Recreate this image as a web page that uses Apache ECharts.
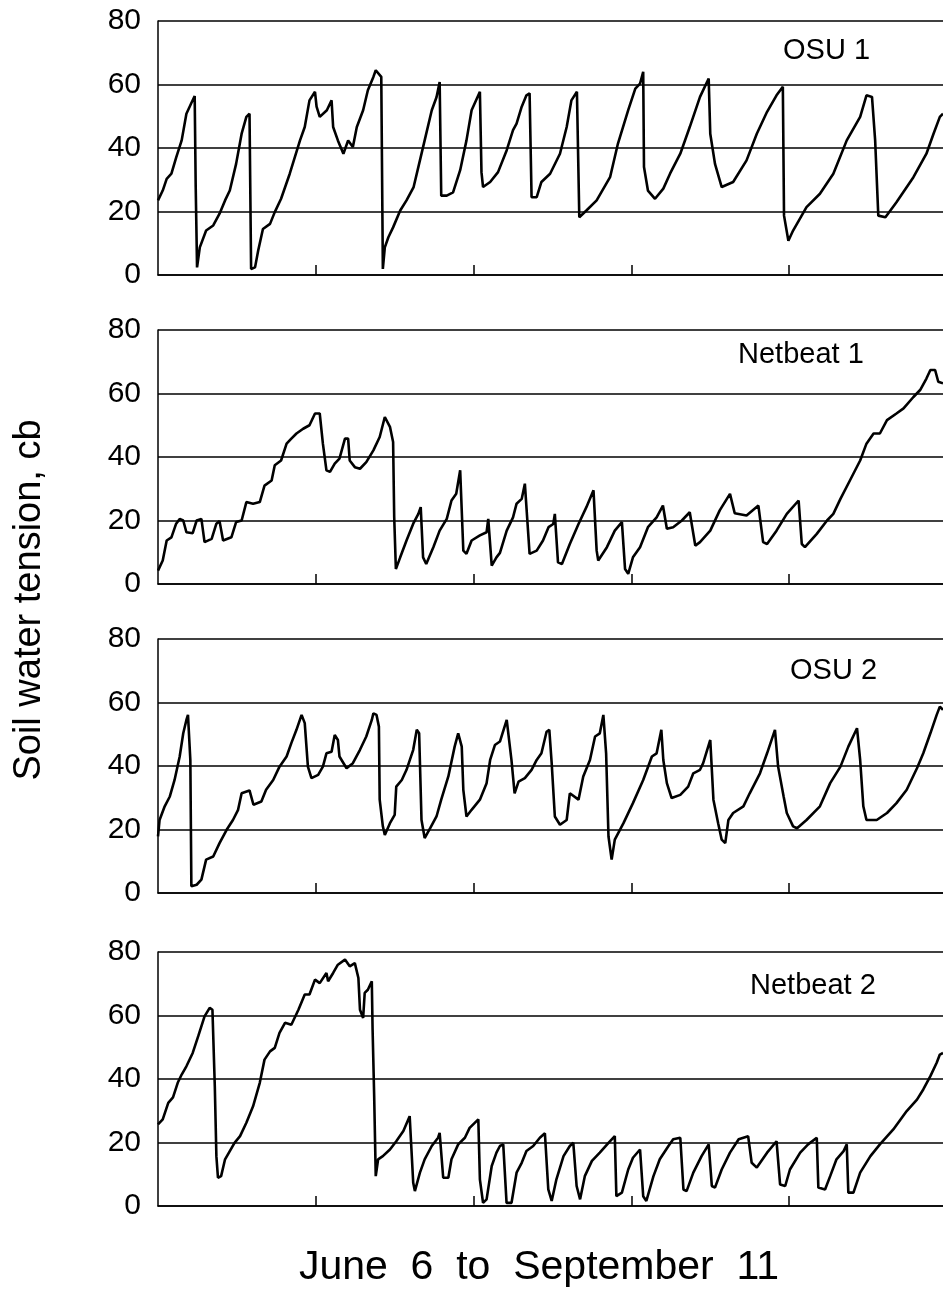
<!DOCTYPE html>
<html>
<head>
<meta charset="utf-8">
<script src="https://cdn.jsdelivr.net/npm/echarts@6/dist/echarts.min.js"></script>
<style>
  html, body { margin: 0; padding: 0; background: #fff; }
  #chart { width: 943px; height: 1292px; }
</style>
</head>
<body>
<div id="chart"></div>
<script>
// x is a time index along the season (tick every 20 units), y is soil water tension (cb)
var osu1Day = [0, 0.6, 1.1, 1.7, 2.3, 3.0, 3.6, 4.2, 4.65, 4.78, 4.95, 5.3, 6.1, 7.0, 7.8, 8.5, 9.1, 9.9, 10.6, 11.2, 11.6, 11.8, 12.3, 12.7, 13.3, 14.2, 14.8, 15.6, 16.7, 18.0, 18.6, 19.2, 19.9, 20.1, 20.5, 21.4, 22.0, 22.2, 22.8, 23.5, 24.1, 24.7, 25.2, 26.0, 26.6, 27.3, 27.6, 28.3, 28.5, 28.75, 29.2, 29.8, 30.7, 31.5, 32.4, 33.2, 33.8, 34.7, 35.3, 35.7, 35.9, 36.6, 37.4, 38.3, 39.1, 39.75, 40.8, 40.9, 41.0, 41.2, 42.1, 43.1, 44.2, 45.0, 45.45, 46.1, 46.7, 47.1, 47.35, 48.0, 48.6, 49.7, 50.95, 51.8, 52.4, 53.1, 53.4, 54.3, 55.6, 57.3, 58.3, 59.6, 60.5, 61.1, 61.5, 61.6, 62.1, 63.0, 64.05, 64.9, 66.2, 67.4, 68.7, 69.8, 70.0, 70.6, 71.45, 72.9, 74.6, 75.9, 77.2, 78.4, 79.2, 79.35, 79.9, 80.5, 82.2, 83.9, 85.6, 87.3, 89.0, 89.8, 90.5, 90.9, 91.3, 92.2, 93.6, 95.75, 97.4, 98.3, 99.1, 99.5];
var osu1Val = [23.5, 26.6, 30.3, 31.9, 37, 42.4, 50.8, 54, 56.4, 27.7, 2.4, 8.7, 14, 15.6, 19.3, 23.5, 26.6, 35, 44.5, 49.8, 50.8, 1.9, 2.4, 7.7, 14.5, 16.1, 19.8, 24, 31.9, 42.4, 46.6, 55, 57.7, 53, 49.8, 51.9, 55, 46.6, 42.4, 38.2, 42.4, 40.3, 46.6, 51.9, 58.2, 62.4, 64.5, 62.4, 1.9, 8.7, 11.9, 15, 20.3, 23.5, 27.7, 36.1, 42.4, 51.9, 56, 60.8, 25, 25, 26, 33, 42.4, 51.9, 57.7, 57.7, 32.4, 27.7, 29.3, 32.4, 39.3, 45.6, 47.7, 53, 56.6, 57.2, 24.5, 24.5, 29.3, 31.9, 38.2, 46.6, 55, 57.7, 18.2, 20.3, 23.5, 30.8, 41.4, 51.9, 58.7, 60.3, 64, 34, 26.6, 24, 27.2, 31.9, 38.2, 46.6, 56.1, 61.9, 44.5, 35, 27.7, 29.3, 36.1, 44.5, 51.4, 56.6, 59.3, 18.7, 10.8, 14, 21.4, 25.6, 31.9, 42.4, 49.8, 56.6, 56.1, 42.4, 18.7, 18.2, 22.9, 30.8, 38.2, 44.5, 49.8, 50.8];

var net1Day = [0, 0.6, 1.1, 1.7, 2.3, 2.75, 3.2, 3.6, 4.4, 4.9, 5.5, 5.9, 6.8, 7.4, 7.8, 8.25, 9.3, 9.9, 10.6, 11.2, 12.05, 12.9, 13.5, 14.4, 14.8, 15.6, 16.3, 16.9, 17.55, 18.4, 19.2, 19.9, 20.5, 20.9, 21.35, 21.8, 22.4, 23.0, 23.7, 24.1, 24.3, 24.95, 25.6, 26.4, 27.3, 28.1, 28.75, 29.4, 29.8, 29.94, 30.15, 30.7, 31.5, 32.35, 33.0, 33.3, 33.6, 34.0, 34.9, 35.7, 36.6, 37.2, 37.8, 38.3, 38.7, 39.1, 39.75, 40.8, 41.65, 41.86, 42.3, 42.9, 43.34, 44.2, 45.0, 45.45, 46.1, 46.5, 46.7, 47.1, 48.0, 48.8, 49.5, 50.1, 50.3, 50.7, 51.2, 52.2, 53.3, 54.3, 55.2, 55.6, 55.8, 56.9, 57.9, 58.8, 59.2, 59.6, 60.2, 61.1, 62.1, 63.2, 64.0, 64.5, 65.3, 66.4, 67.4, 68.1, 68.7, 70.0, 71.2, 72.5, 73.1, 74.6, 76.1, 76.7, 77.2, 78.4, 79.7, 81.2, 81.6, 82.0, 83.5, 84.8, 85.6, 86.5, 87.7, 89.0, 89.8, 90.7, 91.5, 92.4, 93.6, 94.5, 95.75, 96.6, 97.4, 97.9, 98.5, 98.9, 99.5];
var net1Val = [4.2, 7.4, 13.7, 14.7, 19, 20.5, 20, 16.3, 16, 20, 20.5, 13.2, 14.2, 19, 19.8, 13.7, 14.7, 19.5, 20, 25.8, 25.3, 25.8, 31, 32.6, 37.4, 38.9, 44.2, 45.8, 47.4, 48.9, 50, 53.7, 53.7, 44.2, 35.8, 35.3, 37.9, 39.5, 45.8, 45.8, 38.9, 36.8, 36.3, 38.4, 42.1, 46.3, 52.6, 49.5, 44.7, 21, 4.7, 8.4, 13.7, 19, 22.1, 24.2, 8.4, 6.3, 11.6, 16.8, 20.5, 26.3, 28.4, 35.8, 10.5, 9.5, 13.7, 15.3, 16.3, 20.5, 5.8, 8.4, 9.8, 16.8, 21, 25.3, 26.8, 31.6, 32.1, 9.5, 10.5, 13.7, 17.9, 18.9, 22.1, 6.8, 6.3, 12.6, 18.9, 24.2, 29.5, 10.5, 7.4, 11.6, 16.8, 19.5, 4.7, 3.2, 8.4, 11.6, 17.9, 21, 24.7, 17.4, 17.9, 20, 22.6, 12.1, 13.2, 16.8, 23.2, 28.4, 22.3, 21.6, 24.7, 13.2, 12.6, 16.8, 22.1, 26.3, 12.6, 11.6, 15.8, 20, 22.1, 26.8, 32.6, 38.9, 44.2, 47.4, 47.4, 51.6, 53.7, 55.3, 58.9, 61.1, 64.7, 67.4, 67.4, 63.7, 63.2];

var osu2Day = [0, 0.2, 0.85, 1.5, 2.1, 2.75, 3.2, 3.6, 3.8, 4.1, 4.23, 4.9, 5.5, 6.1, 7.0, 7.8, 8.7, 9.5, 10.15, 10.6, 11.6, 12.1, 13.1, 13.7, 14.6, 15.4, 16.3, 16.9, 17.55, 18.2, 18.6, 19.0, 19.45, 20.3, 20.9, 21.35, 22.0, 22.4, 22.8, 23.0, 23.9, 24.7, 25.6, 26.4, 27.1, 27.3, 27.7, 28.0, 28.1, 28.5, 28.75, 29.4, 30.0, 30.2, 30.9, 31.5, 32.35, 32.8, 33.1, 33.4, 33.8, 34.5, 35.3, 35.9, 36.8, 37.6, 38.05, 38.5, 38.7, 39.1, 39.75, 40.8, 41.65, 42.1, 42.7, 43.34, 44.2, 44.4, 44.8, 45.2, 45.7, 46.5, 47.35, 48.0, 48.6, 49.25, 49.6, 49.9, 50.3, 50.95, 51.8, 52.2, 53.3, 53.9, 54.75, 55.4, 56.0, 56.45, 56.8, 57.1, 57.5, 57.9, 59.0, 60.2, 61.5, 62.6, 63.2, 63.8, 64.05, 64.5, 65.1, 66.2, 67.2, 67.85, 68.7, 69.1, 70.0, 70.4, 71.0, 71.45, 71.9, 72.3, 72.9, 74.2, 75.0, 76.3, 77.2, 78.2, 78.6, 79.3, 79.7, 80.5, 81.0, 82.2, 83.9, 85.2, 86.5, 87.5, 88.6, 89.0, 89.4, 89.8, 91.1, 92.4, 93.6, 94.9, 96.2, 97.0, 97.9, 98.7, 99.1, 99.5];
var osu2Val = [17.8, 23, 27.3, 30.4, 35.6, 43, 50.3, 54.5, 56.1, 41.9, 2.1, 2.6, 4.2, 10.5, 11.5, 15.7, 19.9, 23, 26.2, 31.4, 32.3, 27.8, 28.8, 32.5, 35.6, 39.8, 43, 47.2, 51.4, 56.1, 53.5, 39.8, 36.2, 37.2, 39.8, 44, 44.5, 49.8, 48.2, 43, 39.3, 40.9, 45.1, 49.3, 54.5, 56.6, 56.1, 52.4, 29.4, 21, 18.3, 22, 24.6, 33.5, 35.6, 38.8, 45.1, 51.4, 50.3, 23, 17.3, 20.4, 24.1, 29.4, 36.7, 46.1, 50.3, 46.1, 32.5, 24.1, 26.2, 29.4, 34.6, 41.9, 46.6, 47.7, 54.5, 54.5, 41.9, 31.4, 35.1, 36.2, 38.8, 41.9, 44, 50.8, 51.4, 40.9, 24.1, 21.5, 23, 31.4, 29.4, 36.7, 41.9, 49.3, 50.3, 56.1, 44, 17.8, 10.5, 16.8, 22, 28.3, 35.6, 43, 44, 51.4, 41.9, 34.6, 29.9, 30.9, 33.5, 37.7, 38.8, 40.9, 48.2, 29.4, 22, 16.8, 15.7, 23, 25.2, 27.3, 31.4, 37.7, 44, 51.4, 39.8, 30.4, 25.2, 21, 20.4, 23, 27.3, 34.6, 39.8, 46.1, 51.9, 41.9, 27.3, 23, 23, 25.2, 28.3, 32.5, 39.3, 44, 50.3, 56.1, 58.7, 57.7];

var net2Day = [0, 0.6, 1.3, 1.9, 2.5, 3.0, 3.6, 4.4, 5.1, 5.9, 6.55, 6.9, 7.2, 7.4, 7.6, 8.0, 8.5, 9.1, 9.7, 10.4, 11.2, 12.05, 12.9, 13.5, 14.2, 14.8, 15.4, 16.1, 16.9, 17.8, 18.6, 19.2, 19.9, 20.5, 21.35, 21.56, 22.2, 22.8, 23.7, 24.3, 24.95, 25.4, 25.6, 26.0, 26.2, 26.6, 27.1, 27.2, 27.4, 27.6, 27.9, 28.5, 29.4, 30.2, 31.1, 31.9, 32.35, 32.56, 33.2, 33.8, 34.7, 35.5, 35.7, 36.15, 36.8, 37.2, 38.05, 38.9, 39.5, 40.6, 40.8, 41.2, 41.65, 42.3, 42.9, 43.34, 43.76, 44.18, 44.81, 45.45, 46.1, 46.7, 47.56, 48.4, 49.04, 49.47, 49.9, 50.5, 51.4, 52.2, 52.64, 53.06, 53.5, 54.1, 55.0, 56.0, 57.1, 57.9, 58.1, 58.8, 59.6, 60.2, 61.1, 61.5, 61.9, 62.8, 63.6, 64.7, 65.3, 66.2, 66.6, 67.0, 67.85, 68.9, 69.8, 70.2, 70.6, 71.45, 72.5, 73.6, 74.8, 75.25, 75.9, 77.2, 78.4, 78.85, 79.5, 80.1, 81.4, 82.4, 83.5, 83.7, 84.55, 85.2, 86.0, 86.9, 87.3, 87.5, 88.15, 89.0, 90.3, 91.5, 93.2, 94.9, 96.2, 97.0, 97.9, 98.7, 99.1, 99.5];
var net2Val = [25.7, 27.3, 32.5, 34.2, 38.8, 41.4, 44, 48.2, 53.5, 59.7, 62.4, 61.8, 37.7, 15.7, 8.9, 9.4, 14.7, 17.3, 19.9, 22, 26.2, 31.4, 38.8, 46.1, 48.7, 49.8, 54.5, 57.7, 57.1, 61.8, 66.6, 66.6, 71.3, 70.2, 73.4, 70.8, 73.4, 76, 77.6, 75.5, 76.5, 71.8, 61.8, 59.2, 67.1, 68.1, 70.8, 55.6, 34.6, 9.4, 14.7, 15.7, 17.8, 20.4, 23.6, 28.3, 7.3, 4.7, 10.5, 14.7, 18.9, 21.5, 23, 8.9, 8.9, 14.7, 19.4, 21.5, 24.6, 27.3, 8.4, 1, 2.1, 12.6, 16.8, 18.9, 19.4, 1, 1, 10.5, 13.6, 17.3, 18.9, 21.5, 22.9, 5.2, 1.6, 8.4, 15.7, 18.9, 19.9, 6.3, 2.1, 9.4, 14.2, 16.8, 19.9, 22, 3.1, 4.2, 11.5, 15.2, 17.8, 3.1, 1.6, 9.4, 14.7, 18.9, 21, 21.5, 5.2, 4.7, 10.5, 15.7, 19.4, 6.3, 5.8, 11.5, 16.8, 21, 22, 13.6, 12.1, 16.8, 20.4, 6.8, 6.3, 11.5, 16.8, 19.4, 21.5, 5.8, 5.2, 9.4, 14.7, 17.3, 19.4, 4.2, 4.2, 10.5, 15.7, 19.4, 24.1, 29.9, 33.5, 36.7, 40.9, 45.1, 47.7, 48.2];

var panelNames = ['OSU 1', 'Netbeat 1', 'OSU 2', 'Netbeat 2'];
var panelDays = [osu1Day, net1Day, osu2Day, net2Day];
var panelVals = [osu1Val, net1Val, osu2Val, net2Val];
var yTicks = [0, 20, 40, 60, 80];

var font = "'Liberation Sans', Arial, sans-serif";
var gridTops = [21, 330, 639, 952];
var labelPos = [[783, 52], [738, 356], [790, 672], [750, 987]];

var chart = echarts.init(document.getElementById('chart'), null, { renderer: 'canvas' });

var grids = [], xAxes = [], yAxes = [], series = [], graphics = [];
for (var i = 0; i < 4; i++) {
  grids.push({ left: 158, right: 0, top: gridTops[i], height: 254, containLabel: false });
  xAxes.push({
    type: 'value', gridIndex: i, min: 0, max: 99.5, interval: 20,
    axisLine: { show: true, lineStyle: { color: '#000', width: 1.5 } },
    axisTick: { show: true, inside: true, length: 10, customValues: [20, 40, 60, 80], lineStyle: { color: '#000', width: 1.5 } },
    axisLabel: { show: false },
    splitLine: { show: false }
  });
  yAxes.push({
    type: 'value', gridIndex: i, min: yTicks[0], max: yTicks[yTicks.length - 1], interval: 20,
    axisLine: { show: true, lineStyle: { color: '#000', width: 1.5 } },
    axisTick: { show: false },
    axisLabel: { color: '#000', fontSize: 30, fontFamily: font, margin: 17 },
    splitLine: { show: true, lineStyle: { color: '#000', width: 1.5 } }
  });
  var pts = panelDays[i].map(function (d, k) { return [d, panelVals[i][k]]; });
  series.push({
    name: panelNames[i], type: 'line', xAxisIndex: i, yAxisIndex: i,
    data: pts, showSymbol: false, animation: false,
    lineStyle: { color: '#000', width: 2.6 }
  });
  graphics.push({
    type: 'text', left: labelPos[i][0], top: labelPos[i][1] - 16,
    style: { text: panelNames[i], font: '29px ' + font, fill: '#000' }
  });
}

graphics.push({
  type: 'text', x: 30, y: 600, rotation: Math.PI / 2,
  style: { text: 'Soil water tension, cb', font: '38px ' + font, fill: '#000', align: 'center', verticalAlign: 'middle' }
});
graphics.push({
  type: 'text', x: 539, y: 1268,
  style: { text: 'June  6  to  September  11', font: '41px ' + font, fill: '#000', align: 'center', verticalAlign: 'middle' }
});

var option = {
  backgroundColor: '#fff',
  animation: false,
  grid: grids,
  xAxis: xAxes,
  yAxis: yAxes,
  series: series,
  graphic: graphics
};
chart.setOption(option);
</script>
</body>
</html>
